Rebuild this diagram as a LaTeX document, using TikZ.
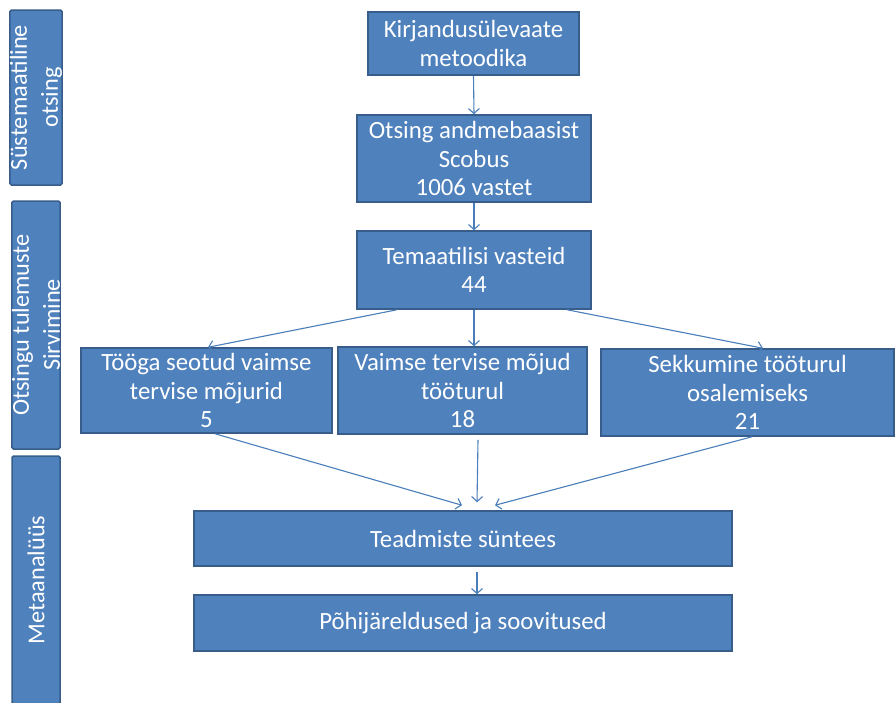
\documentclass[tikz,border=0pt]{standalone}
\usepackage{fontspec}
\setmainfont{Carlito}
\usetikzlibrary{arrows.meta}
\definecolor{boxfill}{HTML}{4F81BD}
\definecolor{boxline}{HTML}{385D8A}
\definecolor{arrowcol}{HTML}{4A7EBB}
\tikzset{
  flowbox/.style={draw=boxline, line width=1.5pt, fill=boxfill, text=white,
    inner sep=0pt, align=center, font=\fontsize{24.8}{28.5}\selectfont},
  sidebar/.style={flowbox, rotate=90, rounded corners=1.5pt, font=\fontsize{24.3}{31}\selectfont},
  conn/.style={draw=arrowcol, line width=1.1pt, -{Straight Barb[length=5pt,width=11pt]}}
}
\begin{document}
\begin{tikzpicture}[x=1pt,y=-1pt]
\useasboundingbox (0,0) rectangle (896,702);
% side bars
\node[sidebar, minimum width=175pt, minimum height=48pt] (s1) at (36,97.5) {Süstemaatiline\\otsing};
\node[sidebar, minimum width=248pt, minimum height=48pt] (s2) at (36,325) {Otsingu tulemuste\\Sirvimine};
\node[sidebar, minimum width=248pt, minimum height=48pt] (s3) at (36,580) {Metaanalüüs};
% main boxes
\node[flowbox, minimum width=211pt, minimum height=63pt] (b1) at (473.5,43.5) {Kirjandusülevaate\\metoodika};
\node[flowbox, minimum width=234pt, minimum height=87pt] (b2) at (474,158.5) {Otsing andmebaasist\\Scobus\\1006 vastet};
\node[flowbox, minimum width=234pt, minimum height=78pt] (b3) at (474,270) {Temaatilisi vasteid\\44};
\node[flowbox, minimum width=251pt, minimum height=85pt] (a) at (206.5,390.5) {Tööga seotud vaimse\\tervise mõjurid\\5};
\node[flowbox, minimum width=249pt, minimum height=87pt] (b) at (462.5,390.5) {Vaimse tervise mõjud\\tööturul\\18};
\node[flowbox, minimum width=293pt, minimum height=87pt] (c) at (747.5,392.5) {Sekkumine tööturul\\osalemiseks\\21};
\node[flowbox, minimum width=538pt, minimum height=55pt] (d) at (463,538.5) {Teadmiste süntees};
\node[flowbox, minimum width=538pt, minimum height=56pt] (e) at (463,623) {Põhijäreldused ja soovitused};
% connectors
\draw[conn] (b1.south) -- (b2.north);
\draw[conn] (b2.south) -- (b3.north);
\draw[conn] ([xshift=-77pt]b3.south) -- ([xshift=1.5pt]a.north);
\draw[conn] (b3.south) -- (b3.south |- b.north);
\draw[conn] ([xshift=93pt]b3.south) -- ([xshift=15.5pt]c.north);
\draw[conn] ([xshift=8.5pt]a.south) -- ([xshift=-1pt,yshift=5pt]d.north);
\draw[conn] ([xshift=15.5pt,yshift=-5pt]b.south) -- ([xshift=14pt,yshift=8pt]d.north);
\draw[conn] ([xshift=4.5pt]c.south) -- ([xshift=32pt,yshift=5pt]d.north);
\draw[conn] ([xshift=14pt,yshift=-5pt]d.south) -- ([xshift=14pt]e.north);
\end{tikzpicture}
\end{document}
